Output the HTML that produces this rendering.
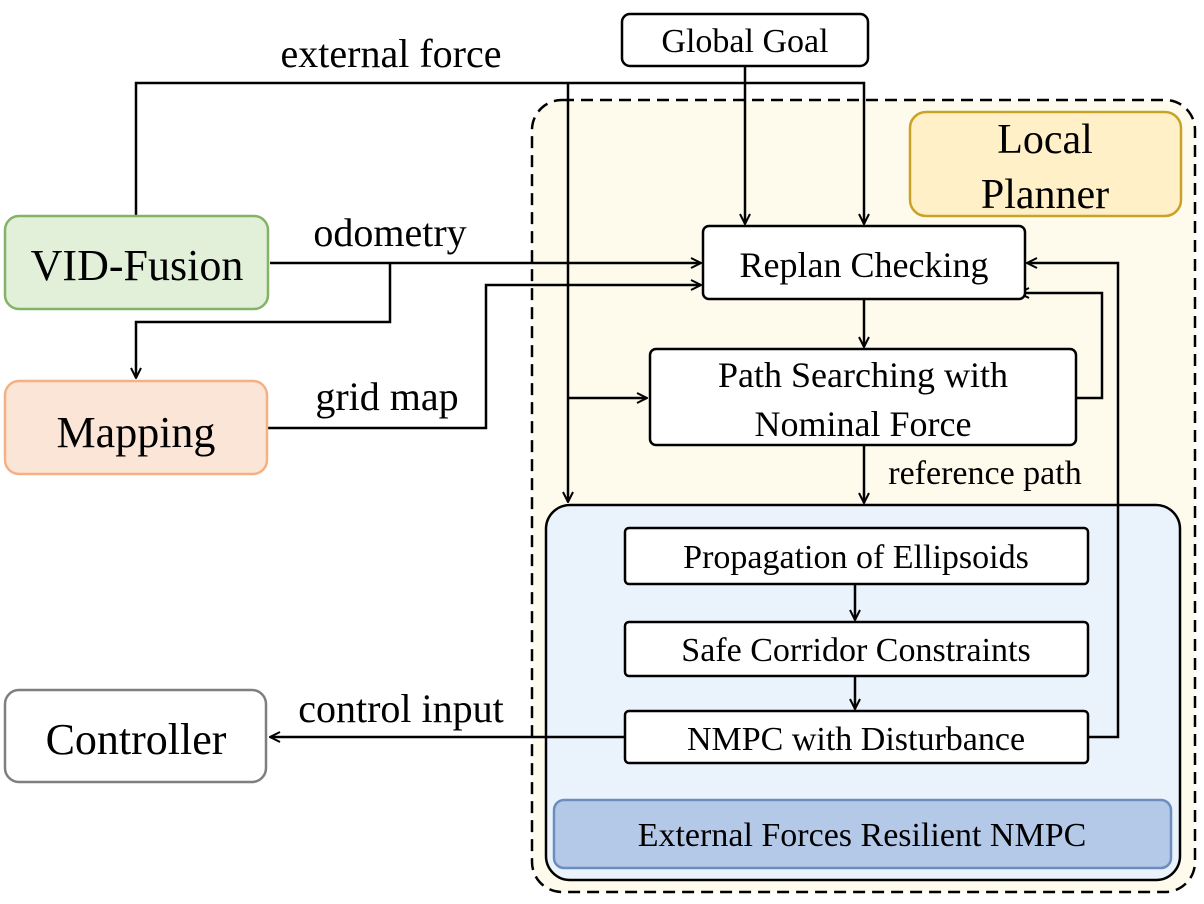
<!DOCTYPE html>
<html><head><meta charset="utf-8"><style>
html,body{margin:0;padding:0;background:#fff}
svg{display:block}
text{font-family:"Liberation Serif",serif;fill:#000}
</style></head><body>
<svg width="1204" height="904" viewBox="0 0 1204 904" xmlns="http://www.w3.org/2000/svg">
<defs>
<marker id="a" viewBox="0 0 12 12" refX="11" refY="6" markerWidth="12" markerHeight="12" markerUnits="userSpaceOnUse" orient="auto">
<path d="M1,1 L11,6 L1,11" fill="none" stroke="#000" stroke-width="2"/>
</marker>
</defs>
<!-- dashed local planner container -->
<rect x="532" y="100" width="663" height="792" rx="30" fill="#fffbec" stroke="#000" stroke-width="2.5" stroke-dasharray="12,7"/>
<!-- Local planner label -->
<rect x="910" y="112" width="271" height="104" rx="16" fill="#fff0c8" stroke="#c9a227" stroke-width="2.5"/>
<text x="1045" y="153" font-size="42" text-anchor="middle">Local</text>
<text x="1045" y="208" font-size="42" text-anchor="middle">Planner</text>
<!-- NMPC container -->
<rect x="546" y="505" width="634" height="375" rx="24" fill="#eaf2fb" stroke="#000" stroke-width="2.5"/>
<rect x="554" y="800" width="617" height="68" rx="10" fill="#b4c8e8" stroke="#6c8ebf" stroke-width="2.5"/>
<text x="862" y="846" font-size="34" text-anchor="middle">External Forces Resilient NMPC</text>

<g fill="none" stroke="#000" stroke-width="2.5">
<!-- external force -->
<polyline points="136,216 136,83 864,83 864,224" marker-end="url(#a)"/>
<polyline points="568,83 568,502" marker-end="url(#a)"/>
<polyline points="568,398 647,398" marker-end="url(#a)"/>
<!-- global goal -->
<polyline points="745,66 745,224" marker-end="url(#a)"/>
<!-- odometry -->
<polyline points="270,263 701,263" marker-end="url(#a)"/>
<polyline points="390,263 390,322 136,322 136,378" marker-end="url(#a)"/>
<!-- grid map -->
<polyline points="268,428 486,428 486,285 701,285" marker-end="url(#a)"/>
<!-- replan -> path -->
<polyline points="864,299 864,347" marker-end="url(#a)"/>
<!-- path feedback -->
<polyline points="1076,398 1102,398 1102,293 1019,293" marker-end="url(#a)"/>
<!-- reference path -->
<polyline points="864,445 864,503" marker-end="url(#a)"/>
<!-- inner arrows -->
<polyline points="855,584 855,620" marker-end="url(#a)"/>
<polyline points="855,676 855,709" marker-end="url(#a)"/>
<!-- NMPC feedback -->
<polyline points="1088,737 1118,737 1118,263 1027,263" marker-end="url(#a)"/>
<!-- control input -->
<polyline points="625,737 270,737" marker-end="url(#a)"/>
</g>

<!-- boxes -->
<rect x="622" y="14" width="246" height="52" rx="8" fill="#fff" stroke="#000" stroke-width="2.5"/>
<text x="745" y="52" font-size="34" text-anchor="middle">Global Goal</text>

<rect x="703" y="226" width="322" height="73" rx="6" fill="#fff" stroke="#000" stroke-width="2.5"/>
<text x="864" y="277" font-size="36" text-anchor="middle">Replan Checking</text>

<rect x="650" y="349" width="426" height="96" rx="6" fill="#fff" stroke="#000" stroke-width="2.5"/>
<text x="863" y="387" font-size="36" text-anchor="middle">Path Searching with</text>
<text x="863" y="436" font-size="36" text-anchor="middle">Nominal Force</text>

<rect x="625" y="528" width="463" height="56" rx="4" fill="#fff" stroke="#000" stroke-width="2.5"/>
<text x="856" y="568" font-size="34" text-anchor="middle">Propagation of Ellipsoids</text>
<rect x="625" y="622" width="463" height="54" rx="4" fill="#fff" stroke="#000" stroke-width="2.5"/>
<text x="856" y="661" font-size="34" text-anchor="middle">Safe Corridor Constraints</text>
<rect x="625" y="711" width="463" height="52" rx="4" fill="#fff" stroke="#000" stroke-width="2.5"/>
<text x="856" y="750" font-size="34" text-anchor="middle">NMPC with Disturbance</text>

<rect x="5" y="216" width="263" height="93" rx="14" fill="#e2efd9" stroke="#82b366" stroke-width="2.5"/>
<text x="137" y="280" font-size="44" text-anchor="middle">VID-Fusion</text>
<rect x="5" y="381" width="262" height="93" rx="14" fill="#fbe5d6" stroke="#f4b183" stroke-width="2.5"/>
<text x="136" y="447" font-size="44" text-anchor="middle">Mapping</text>
<rect x="5" y="690" width="261" height="92" rx="14" fill="#fff" stroke="#7f7f7f" stroke-width="2.5"/>
<text x="136" y="754" font-size="44" text-anchor="middle">Controller</text>

<!-- edge labels -->
<text x="391" y="67" font-size="40" text-anchor="middle">external force</text>
<text x="390" y="246" font-size="40" text-anchor="middle">odometry</text>
<text x="387" y="410" font-size="40" text-anchor="middle">grid map</text>
<text x="985" y="484" font-size="34" text-anchor="middle">reference path</text>
<text x="401" y="722" font-size="40" text-anchor="middle">control input</text>
</svg>
</body></html>
